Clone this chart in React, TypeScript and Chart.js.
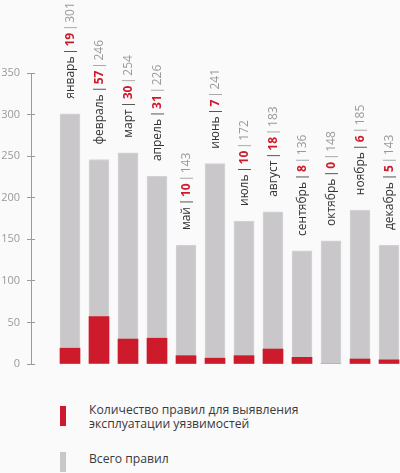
import React, { useEffect, useRef } from 'react';
import { Chart, registerables } from 'chart.js';

Chart.register(...registerables);

const months = ['январь', 'февраль', 'март', 'апрель', 'май', 'июнь', 'июль', 'август', 'сентябрь', 'октябрь', 'ноябрь', 'декабрь'];
const exploitRules = [19, 57, 30, 31, 10, 7, 10, 18, 8, 0, 6, 5];
const totalRules = [301, 246, 254, 226, 143, 241, 172, 183, 136, 148, 185, 143];
const legendExploit = ['Количество правил для выявления', 'эксплуатации уязвимостей'];
const legendTotal = 'Всего правил';

const RED = '#cd1b2c';
const GREY = '#c9c7ca';
const BG = '#fafafa';
const FONT = "'Open Sans', sans-serif";

const labelPlugin = {
  id: 'barLabels',
  afterDatasetsDraw(chart: any) {
    const ctx = chart.ctx;
    const meta = chart.getDatasetMeta(1);
    meta.data.forEach((bar: any, i: number) => {
      const parts = [
        { t: months[i], c: '#333333', b: false },
        { t: '|', c: '#333333', b: false, sep: true },
        { t: String(exploitRules[i]), c: RED, b: true },
        { t: '|', c: '#9a9a9a', b: false, sep: true },
        { t: String(totalRules[i]), c: '#9a9a9a', b: false },
      ];
      ctx.save();
      ctx.translate(bar.x + 4, bar.y - 15);
      ctx.rotate(-Math.PI / 2);
      ctx.textAlign = 'left';
      ctx.textBaseline = 'alphabetic';
      let x = 0;
      for (const p of parts as any[]) {
        ctx.font = (p.b ? 'bold ' : '') + '12px ' + FONT;
        ctx.fillStyle = p.c;
        if (p.sep) {
          const w = ctx.measureText(p.t).width;
          const cell = 10;
          ctx.fillText(p.t, x + (cell - w) / 2, 0);
          x += cell;
        } else {
          ctx.fillText(p.t, x, 0);
          x += ctx.measureText(p.t).width;
        }
      }
      ctx.restore();
    });
  },
  afterDraw(chart: any) {
    const ctx = chart.ctx;
    const y = chart.scales.y;
    const ax = chart.chartArea.left;
    ctx.save();
    ctx.strokeStyle = '#9a9a9a';
    ctx.lineWidth = 1;
    y.ticks.forEach((t: any) => {
      const py = Math.round(y.getPixelForValue(t.value) - 0.5) + 0.5;
      ctx.beginPath();
      ctx.moveTo(ax, py);
      ctx.lineTo(ax + 4, py);
      ctx.stroke();
    });
    ctx.restore();
  },
};

export default function App() {
  const canvasRef = useRef<HTMLCanvasElement>(null);

  useEffect(() => {
    document.body.style.margin = '0';
    document.body.style.background = BG;
    const canvas = canvasRef.current;
    if (!canvas) return;
    const chart = new Chart(canvas, {
      type: 'bar',
      data: {
        datasets: [
          {
            label: legendExploit.join(' '),
            data: exploitRules.map((v, i) => ({ x: i, y: v })),
            backgroundColor: RED,
            borderWidth: 0,
            barThickness: 20,
            grouped: false,
          } as any,
          {
            label: legendTotal,
            data: totalRules.map((v, i) => ({ x: i, y: v })),
            backgroundColor: GREY,
            borderColor: '#d6d4d7',
            borderWidth: 1,
            barThickness: 20,
            grouped: false,
          } as any,
        ],
      },
      options: {
        responsive: false,
        animation: false,
        devicePixelRatio: 1,
        layout: { padding: { top: 73, bottom: 16, left: 0, right: 0 } },
        plugins: {
          legend: { display: false },
          tooltip: { enabled: false },
        },
        scales: {
          x: {
            type: 'linear',
            display: false,
            offset: false,
            min: -1.3448,
            max: 11.3793,
          },
          y: {
            min: 0,
            max: 350,
            ticks: {
              stepSize: 50,
              color: '#9a9a9a',
              font: { family: FONT, size: 11 },
              padding: 7,
            },
            grid: {
              display: true,
              drawOnChartArea: false,
              drawTicks: true,
              tickLength: 4,
              color: '#9a9a9a',
            },
            border: { display: true, color: '#9a9a9a' },
            afterFit(scale: any) {
              scale.width = 31;
            },
          },
        },
      },
      plugins: [labelPlugin],
    } as any);
    return () => chart.destroy();
  }, []);

  const textStyle: React.CSSProperties = {
    position: 'absolute',
    left: 89,
    fontFamily: FONT,
    fontSize: 12.2,
    lineHeight: '14px',
    color: '#3a3a3a',
    whiteSpace: 'nowrap',
  };

  return (
    <div style={{ position: 'relative', width: 400, height: 473, background: BG, overflow: 'hidden' }}>
      <canvas ref={canvasRef} width={400} height={380} style={{ position: 'absolute', left: 0, top: 0, width: 400, height: 380 }} />
      <div style={{ position: 'absolute', left: 60, top: 406, width: 6, height: 20, background: RED }} />
      <div style={{ ...textStyle, top: 403 }}>
        {legendExploit[0]}
        <br />
        {legendExploit[1]}
      </div>
      <div style={{ position: 'absolute', left: 60, top: 452, width: 6, height: 20, background: GREY }} />
      <div style={{ ...textStyle, top: 452 }}>{legendTotal}</div>
    </div>
  );
}
